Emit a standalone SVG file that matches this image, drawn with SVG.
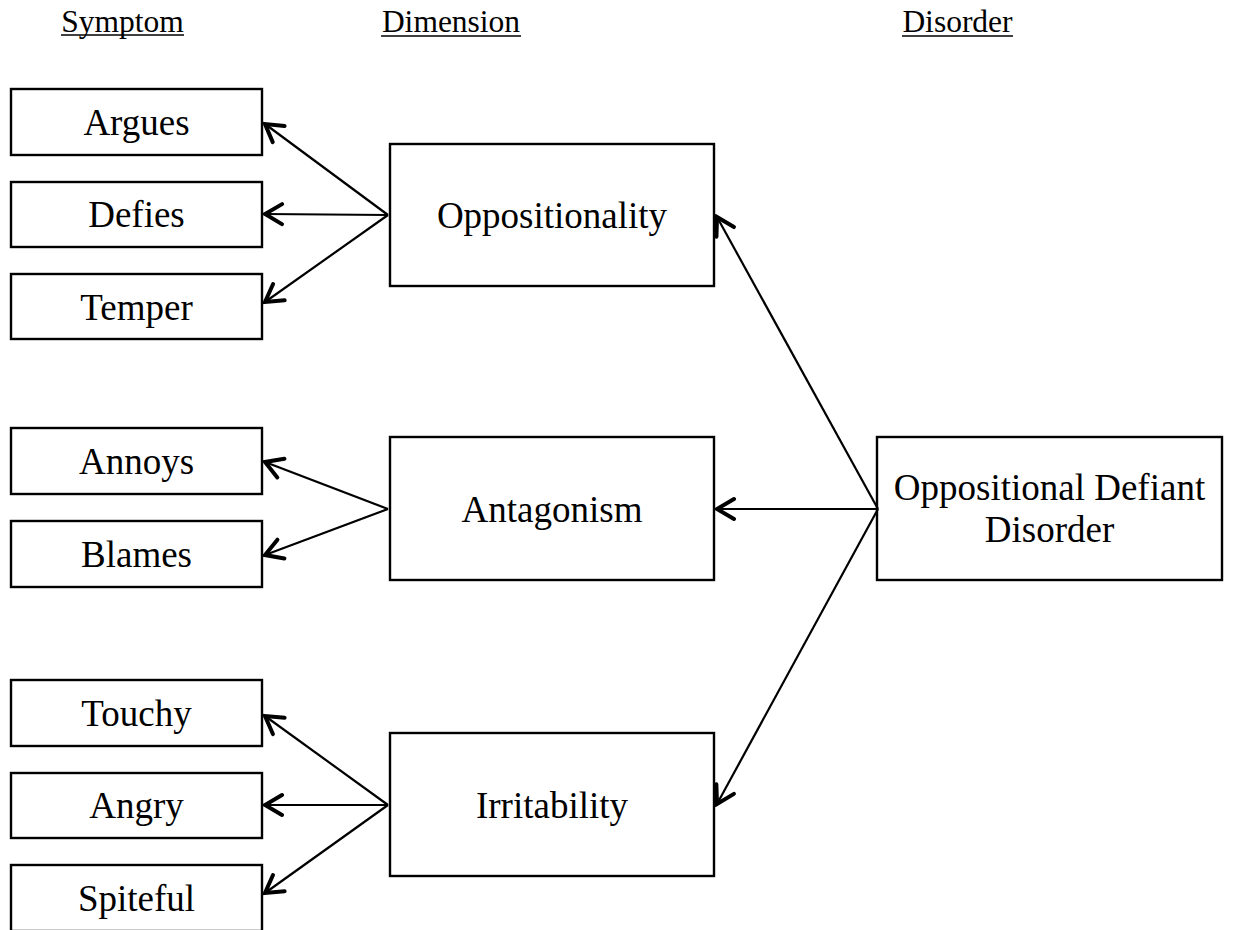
<svg xmlns="http://www.w3.org/2000/svg" width="1245" height="930" viewBox="0 0 1245 930">
<style>
.box{fill:#fff;stroke:#000;stroke-width:2.4}
.t{font-family:"Liberation Serif","Times New Roman",serif;font-size:37px;fill:#000;text-anchor:middle}
.h{font-family:"Liberation Serif","Times New Roman",serif;font-size:31.5px;fill:#000;text-anchor:middle}
.ul{stroke:#000;stroke-width:1.5}
.c{stroke:#000;stroke-width:2.2;fill:none;marker-end:url(#arr)}
</style>
<defs>
<marker id="arr" markerUnits="userSpaceOnUse" viewBox="-21 -13 24 26" refX="0" refY="0" markerWidth="24" markerHeight="26" orient="auto">
<path d="M-17,-10 L0,0 L-17,10" fill="none" stroke="#000" stroke-width="4" stroke-linecap="round" stroke-linejoin="miter"/>
</marker>
</defs>
<g id="headers">
<text class="h" x="122.5" y="32">Symptom</text>
<line class="ul" x1="61" y1="35" x2="184" y2="35"/>
<text class="h" x="451" y="32">Dimension</text>
<line class="ul" x1="381" y1="36" x2="521" y2="36"/>
<text class="h" x="957.5" y="32">Disorder</text>
<line class="ul" x1="902" y1="36" x2="1013" y2="36"/>
</g>
<g id="argues"><rect class="box" x="11" y="89" width="251" height="66"/><text class="t" x="136.5" y="135">Argues</text></g>
<g id="defies"><rect class="box" x="11" y="182" width="251" height="65"/><text class="t" x="136.5" y="227">Defies</text></g>
<g id="temper"><rect class="box" x="11" y="274" width="251" height="65"/><text class="t" x="136.5" y="320">Temper</text></g>
<g id="annoys"><rect class="box" x="11" y="428" width="251" height="66"/><text class="t" x="136.5" y="474">Annoys</text></g>
<g id="blames"><rect class="box" x="11" y="521" width="251" height="66"/><text class="t" x="136.5" y="567">Blames</text></g>
<g id="touchy"><rect class="box" x="11" y="680" width="251" height="66"/><text class="t" x="136.5" y="726">Touchy</text></g>
<g id="angry"><rect class="box" x="11" y="773" width="251" height="65"/><text class="t" x="136.5" y="818">Angry</text></g>
<g id="spiteful"><rect class="box" x="11" y="865" width="251" height="66"/><text class="t" x="136.5" y="911">Spiteful</text></g>
<g id="oppositionality"><rect class="box" x="390" y="144" width="324" height="142"/><text class="t" x="552" y="228">Oppositionality</text></g>
<g id="antagonism"><rect class="box" x="390" y="437" width="324" height="143"/><text class="t" x="552" y="522">Antagonism</text></g>
<g id="irritability"><rect class="box" x="390" y="733" width="324" height="143"/><text class="t" x="552" y="818">Irritability</text></g>
<g id="odd"><rect class="box" x="877" y="437" width="345" height="143"/><text class="t" x="1049.5" y="500">Oppositional Defiant</text><text class="t" x="1049.5" y="542">Disorder</text></g>
<g id="connectors">
<line class="c" x1="388" y1="215" x2="265" y2="124"/>
<line class="c" x1="388" y1="215" x2="265" y2="214"/>
<line class="c" x1="388" y1="215" x2="265" y2="302"/>
<line class="c" x1="388" y1="509" x2="265" y2="462"/>
<line class="c" x1="388" y1="509" x2="265" y2="555"/>
<line class="c" x1="388" y1="805" x2="265" y2="716"/>
<line class="c" x1="388" y1="805" x2="265" y2="805"/>
<line class="c" x1="388" y1="805" x2="265" y2="893"/>
<line class="c" x1="878" y1="509" x2="717" y2="217"/>
<line class="c" x1="878" y1="509" x2="717" y2="509"/>
<line class="c" x1="878" y1="509" x2="717" y2="804"/>
</g>
</svg>
